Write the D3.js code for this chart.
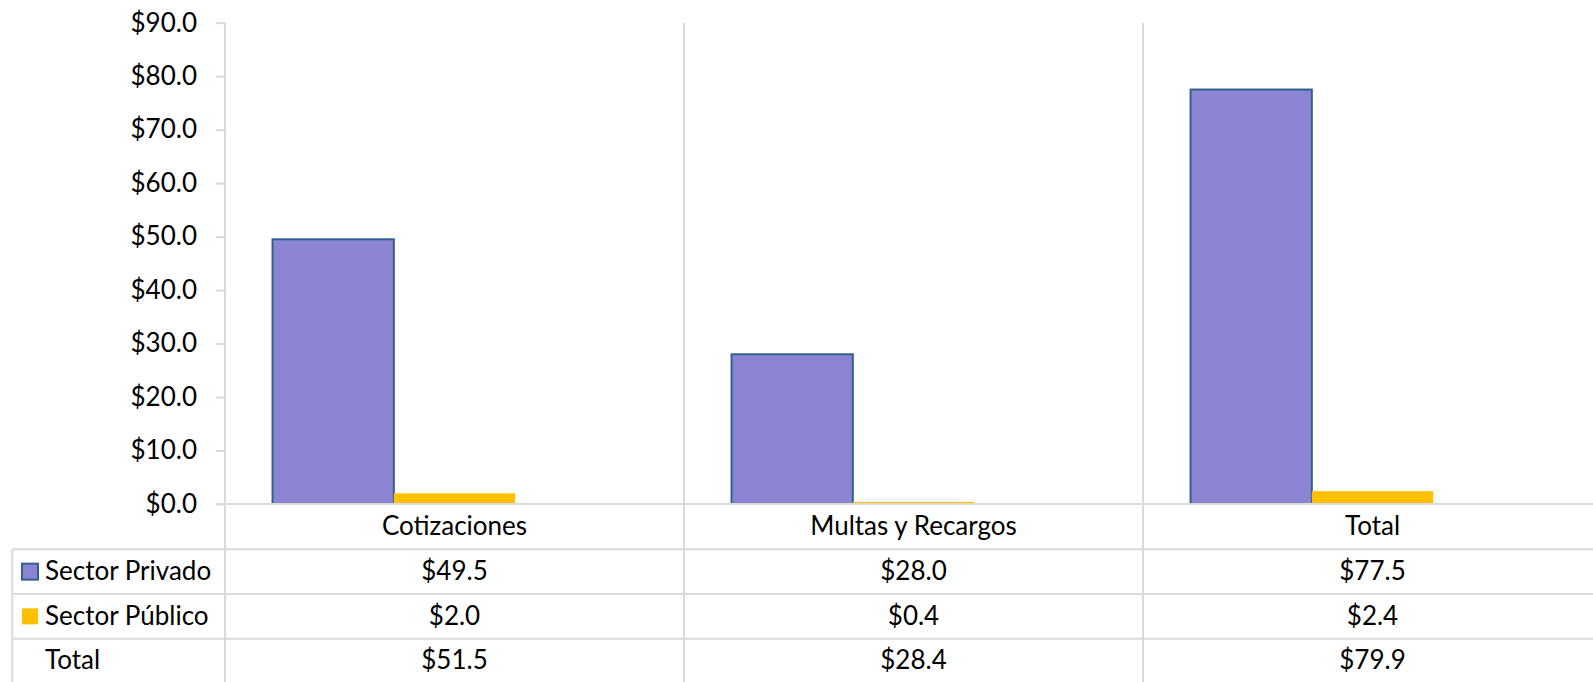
<!DOCTYPE html>
<html>
<head>
<meta charset="utf-8">
<script src="https://cdn.jsdelivr.net/npm/d3@7"></script>
<style>
  body { margin: 0; background: #fff; }
  svg { display: block; font-family: Lato, "Open Sans", sans-serif; }
</style>
</head>
<body>
<div id="chart"></div>
<script>
const categories = ['Cotizaciones', 'Multas y Recargos', 'Total'];
const seriesNames = ['Sector Privado', 'Sector Público', 'Total'];
const privado = [49.5, 28.0, 77.5];
const publico = [2.0, 0.4, 2.4];
const total = [51.5, 28.4, 79.9];
const yTicks = [0, 10, 20, 30, 40, 50, 60, 70, 80, 90];

const width = 1593, height = 682;
const margin = {top: 22.7, left: 225};
const colWidth = 459;
const zeroY = 504;
const rowHeight = 44.7;
const fontSize = 26;

const seriesValues = [privado, publico, total];
const fills = ['#8A84D2', '#FFC000', 'none'];
const strokes = ['#33618E', 'none', 'none'];
const gridColor = '#D9D9D9';

const svg = d3.select('#chart').append('svg')
  .attr('width', width)
  .attr('height', height);

const x0 = d3.scaleBand()
  .domain(categories)
  .range([margin.left, margin.left + colWidth * categories.length])
  .paddingInner(0)
  .paddingOuter(0);

const x1 = d3.scaleBand()
  .domain(seriesNames)
  .range([0, x0.bandwidth()])
  .paddingInner(0)
  .paddingOuter(0.392);

const y = d3.scaleLinear()
  .domain([0, 90])
  .range([zeroY, margin.top]);

// category separators and left axis
const tableBottom = zeroY + 45.3 + rowHeight * 3;
svg.append('g')
  .selectAll('line')
  .data(d3.range(categories.length + 1))
  .enter().append('line')
  .attr('x1', function (i) { return margin.left + colWidth * i; })
  .attr('x2', function (i) { return margin.left + colWidth * i; })
  .attr('y1', margin.top)
  .attr('y2', tableBottom)
  .attr('stroke', gridColor)
  .attr('stroke-width', 2);

// bars
const group = svg.append('g')
  .selectAll('g')
  .data(categories)
  .enter().append('g')
  .attr('transform', function (d) { return 'translate(' + x0(d) + ',0)'; });

group.selectAll('rect')
  .data(function (d, ci) {
    return seriesNames.map(function (s, si) {
      return {key: s, value: seriesValues[si][ci], si: si};
    });
  })
  .enter().append('rect')
  .filter(function (d) { return fills[d.si] !== 'none'; })
  .attr('x', function (d) { return x1(d.key); })
  .attr('y', function (d) { return y(d.value); })
  .attr('width', x1.bandwidth())
  .attr('height', function (d) { return zeroY - y(d.value); })
  .attr('fill', function (d) { return fills[d.si]; })
  .attr('stroke', function (d) { return strokes[d.si]; })
  .attr('stroke-width', 2);

// y axis
const yAxis = svg.append('g')
  .attr('transform', 'translate(' + margin.left + ',0)')
  .call(d3.axisLeft(y)
    .tickValues(yTicks)
    .tickSize(9)
    .tickPadding(19)
    .tickFormat(function (d) { return '$' + d3.format('.1f')(d); }));

yAxis.select('.domain').remove();
yAxis.selectAll('.tick line').attr('stroke', gridColor).attr('stroke-width', 2);
yAxis.selectAll('.tick text')
  .attr('font-size', fontSize)
  .attr('font-family', 'Lato, sans-serif')
  .attr('fill', '#000');

// horizontal axis line at zero
svg.append('line')
  .attr('x1', margin.left - 9)
  .attr('x2', width)
  .attr('y1', y(0))
  .attr('y2', y(0))
  .attr('stroke', gridColor)
  .attr('stroke-width', 2);

// category labels
svg.append('g')
  .selectAll('text')
  .data(categories)
  .enter().append('text')
  .attr('x', function (d) { return x0(d) + x0.bandwidth() / 2; })
  .attr('y', 527)
  .attr('dy', '0.32em')
  .attr('text-anchor', 'middle')
  .attr('font-size', fontSize)
  .text(function (d) { return d; });

// data table
const tableTop = 549.3;
const tableLeft = 12.3;

svg.append('g')
  .selectAll('line')
  .data(d3.range(4))
  .enter().append('line')
  .attr('x1', tableLeft)
  .attr('x2', width)
  .attr('y1', function (i) { return tableTop + rowHeight * i; })
  .attr('y2', function (i) { return tableTop + rowHeight * i; })
  .attr('stroke', gridColor)
  .attr('stroke-width', 2);

svg.append('line')
  .attr('x1', tableLeft)
  .attr('x2', tableLeft)
  .attr('y1', tableTop)
  .attr('y2', tableBottom)
  .attr('stroke', gridColor)
  .attr('stroke-width', 2);

const rows = svg.append('g')
  .selectAll('g')
  .data(seriesNames)
  .enter().append('g')
  .attr('transform', function (d, i) {
    return 'translate(0,' + (tableTop + rowHeight * i + rowHeight / 2) + ')';
  });

rows.filter(function (d, i) { return fills[i] !== 'none'; })
  .append('rect')
  .attr('x', 22)
  .attr('y', -8)
  .attr('width', 16)
  .attr('height', 16)
  .attr('fill', function (d) { return fills[seriesNames.indexOf(d)]; })
  .attr('stroke', function (d) { return strokes[seriesNames.indexOf(d)]; })
  .attr('stroke-width', 2);

rows.append('text')
  .attr('x', 45)
  .attr('dy', '0.32em')
  .attr('font-size', fontSize)
  .text(function (d) { return d; });

rows.selectAll('.val')
  .data(function (d, i) { return seriesValues[i]; })
  .enter().append('text')
  .attr('class', 'val')
  .attr('x', function (d, ci) { return x0(categories[ci]) + x0.bandwidth() / 2; })
  .attr('dy', '0.32em')
  .attr('text-anchor', 'middle')
  .attr('font-size', fontSize)
  .text(function (d) { return '$' + d3.format('.1f')(d); });
</script>
</body>
</html>
